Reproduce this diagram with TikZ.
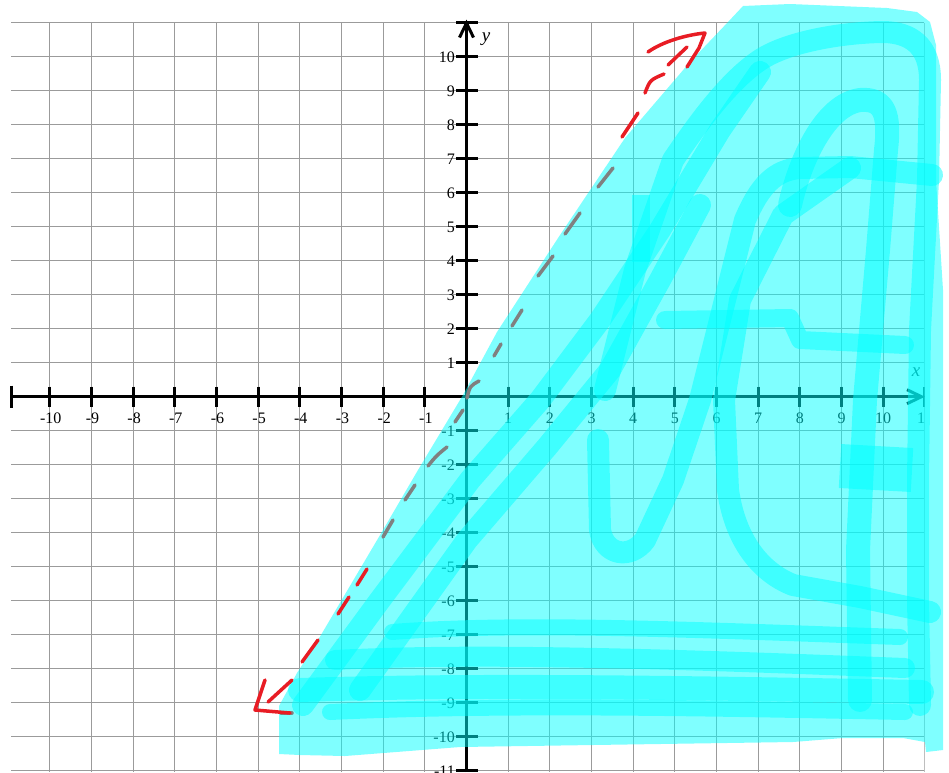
\documentclass[tikz,border=0pt]{standalone}
\usepackage{fontspec}
\setmainfont{Liberation Serif}
\begin{document}
\begin{tikzpicture}[x=1pt,y=-1pt]
\definecolor{cy}{RGB}{0,255,255}
\definecolor{gridc}{RGB}{155,155,155}
\definecolor{penred}{RGB}{232,28,36}
\definecolor{pengray}{RGB}{128,128,128}
\tikzset{
 gridline/.style={draw=gridc, line width=1.2pt},
 axisline/.style={draw=black, line width=3pt},
 tickmark/.style={draw=black, line width=3pt},
 ticklabel/.style={font=\fontsize{16}{16}\selectfont, inner sep=0pt},
 axislabel/.style={font=\fontsize{19}{19}\selectfont\itshape, inner sep=0pt},
 region/.style={fill=cy, fill opacity=0.5},
 pen/.style={draw=cy, draw opacity=0.5, line width=22pt, line cap=round, line join=round},
 redpen/.style={draw=penred, line width=3.5pt, line cap=round, line join=round},
 graypen/.style={draw=pengray, line width=3.5pt, line cap=round, line join=round},
}
\useasboundingbox (0,0) rectangle (949,772);
% ---------- grid, axes, labels ----------
\begin{scope}
\clip (0,0) rectangle (924.5,772);
\foreach \i in {-10,...,11}
  \draw[gridline] ({466.5+41.67*\i},22.7) -- ({466.5+41.67*\i},772);
\foreach \j in {-11,...,11}
  \draw[gridline] (11,{396.7-34*\j}) -- (924,{396.7-34*\j});
% axes
\draw[axisline] (11,396.7) -- (921,396.7);
\draw[axisline, line join=miter] (907,389.7) -- (921.5,396.7) -- (907,403.7);
\draw[axisline] (466.5,772) -- (466.5,23.5);
\draw[axisline, line join=miter] (459.5,37.5) -- (466.5,23) -- (473.5,37.5);
% ticks
\draw[tickmark] (11,385.7) -- (11,407.7);
\foreach \i in {-10,...,-1,1,2,...,11}
  \draw[tickmark] ({466.5+41.67*\i},386.7) -- ({466.5+41.67*\i},406.7);
\foreach \j in {-11,...,-1,1,2,...,11}
  \draw[tickmark] (456,{396.7-34*\j}) -- (478,{396.7-34*\j});
% tick labels
\foreach \i in {-10,...,-1}
  \node[ticklabel] (xl\i) at ({467.5+41.67*\i},418) {\i};
\foreach \i in {1,...,11}
  \node[ticklabel] (xl\i) at ({466.5+41.67*\i},418) {\i};
\foreach \j in {-11,...,-1,1,2,...,10}
  \node[ticklabel, anchor=east] (yl\j) at (455,{397.2-34*\j}) {\j};
\node[axislabel] (ylab) at (486,39) {y};
\node[axislabel] (xlab) at (916,372) {x};
\end{scope}
% ---------- shaded region ----------
\path[region] (279,754) -- (279,706) -- (297,673) -- (318,640) -- (383,530) -- (418,470)
  -- (463,395) -- (497,332) -- (560,235) -- (625,138) -- (690,62) -- (728,22) -- (743,6)
  -- (790,4) -- (887,8) -- (917,12) -- (930,22) -- (936,45) -- (936,180) -- (943,290)
  -- (943,750) -- (926,752) -- (925,742) -- (903,738) -- (843,738) -- (793,742)
  -- (593,745) -- (460,747) -- (345,756) -- (300,755) -- cycle;
% ---------- pen strokes ----------
% bottom horizontals
\draw[pen, line width=16pt] (392,632) .. controls (520,622) and (700,630) .. (900,637);
\draw[pen, line width=20pt] (335,660) .. controls (480,652) and (700,660) .. (905,668);
\draw[pen, line width=24pt] (300,690) .. controls (480,684) and (700,688) .. (922,692);
\draw[pen, line width=16pt] (330,712) .. controls (500,704) and (700,708) .. (905,712);
% diagonals
\draw[pen] (303,705) -- (380,600) -- (470,480) -- (540,400) -- (600,320) -- (660,230) -- (720,130) -- (760,72);
\draw[pen] (360,690) -- (467,540) -- (547,447) -- (610,370) -- (660,280) -- (700,205);
% outer loop
\draw[pen] (605,390) -- (635,270) -- (673,160) .. controls (700,120) and (730,80) .. (760,60)
  .. controls (790,40) and (850,32) .. (885,32) .. controls (910,33) and (930,45) .. (930,80)
  -- (928,180) -- (920,330) -- (918,480) -- (918,600) -- (920,705);
% U and row at y=7
\draw[pen] (598,440) -- (600,530) .. controls (604,555) and (630,560) .. (645,540)
  -- (673,480) -- (700,400) -- (725,300) -- (745,220) .. controls (760,185) and (775,170) .. (800,168)
  -- (850,167) -- (932,175);
% C curve
\draw[pen] (930,612) -- (860,597) -- (793,585) .. controls (760,572) and (735,540) .. (728,490)
  -- (724,400) -- (740,300) -- (783,215) -- (850,168);
% inner U and column at x=9
\draw[pen, line width=24pt] (790,205) .. controls (800,160) and (825,105) .. (860,100)
  .. controls (885,98) and (890,115) .. (886,150) -- (878,250) -- (865,400) -- (858,550) -- (860,700);
% row at y=2
\draw[pen, line width=18pt] (665,320) -- (790,318) -- (800,340) -- (905,345);
% box at right
\draw[pen, line width=44pt, line cap=butt] (840,466) -- (912,470);
% short vertical
\draw[pen, line width=18pt, line cap=butt] (641,195) -- (641,262);
% ---------- hand drawn boundary line ----------
\draw[graypen] (281,713) -- (292,713);
\draw[graypen] (383,537) -- (393,520);
\draw[graypen] (405,500) -- (415,485);
\draw[graypen] (428,466) .. controls (436,456) .. (447,447);
\draw[graypen] (455,422) -- (463,410);
\draw[graypen] (467,398) .. controls (470,386) .. (479,381);
\draw[graypen] (494,356) -- (501,344);
\draw[graypen] (512,326) -- (522,310);
\draw[graypen] (538,276) -- (553,256);
\draw[graypen] (565,234) -- (580,213);
\draw[graypen] (598,187) -- (613,168);
\draw[redpen] (622,137) -- (638,113);
\draw[redpen] (645,93) .. controls (650,80) .. (664,74);
\draw[redpen] (668,65) -- (687,47);
\draw[redpen] (357,585) -- (367,569);
\draw[redpen] (338,614) -- (349,597);
\draw[redpen] (302,662) -- (318,640);
\draw[redpen] (268,702) -- (292,680);
% arrowheads
\draw[redpen] (648,52) .. controls (662,42) and (685,35) .. (705,33) -- (699,48) -- (687,67);
\draw[redpen] (265,680) -- (255,710) -- (290,713);
\end{tikzpicture}
\end{document}
